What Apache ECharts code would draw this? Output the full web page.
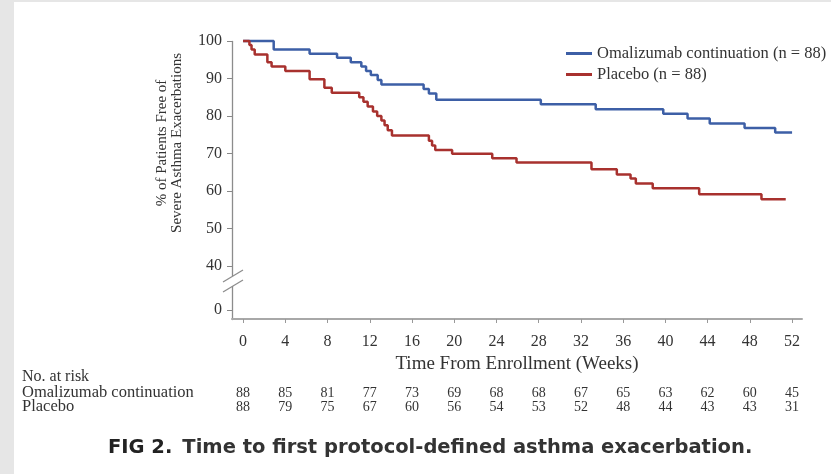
<!DOCTYPE html>
<html><head><meta charset="utf-8">
<script src="https://cdn.jsdelivr.net/npm/echarts@6/dist/echarts.min.js"></script>
<style>
html,body{margin:0;padding:0;background:#fff;}
#wrap{position:relative;width:831px;height:474px;overflow:hidden;background:#fff;}
#bandL{position:absolute;left:0;top:0;width:14px;height:474px;background:#e6e6e6;}
#bandT{position:absolute;left:0;top:0;width:831px;height:2px;background:#e6e6e6;}
#chart{position:absolute;left:0;top:0;width:831px;height:474px;}
</style></head><body>
<div id="wrap"><div id="bandL"></div><div id="bandT"></div><div id="chart"></div></div>
<script>
// ---- data ----
const omaName = 'Omalizumab continuation (n = 88)';
const plaName = 'Placebo (n = 88)';
const omaWeeks = [0, 2.9, 6.3, 8.9, 10.2, 11.2, 11.65, 12.1, 12.75, 13.1, 17.1, 17.6, 18.3, 28.2, 33.4, 39.8, 42.1, 44.2, 47.5, 50.4, 52.0];
const omaSurv  = [100, 97.7, 96.6, 95.5, 94.3, 93.2, 92.0, 90.9, 89.6, 88.4, 87.2, 86.0, 84.3, 83.1, 81.8, 80.6, 79.3, 78.0, 76.8, 75.6, 75.6];
const plaWeeks = [0, 0.6, 0.8, 1.1, 2.3, 2.7, 4.0, 6.3, 7.7, 8.4, 11.0, 11.4, 11.8, 12.3, 12.7, 13.1, 13.4, 13.7, 14.1, 17.6, 17.9, 18.2, 19.8, 23.6, 25.9, 33.0, 35.4, 36.7, 37.2, 38.8, 43.2, 49.1, 51.4];
const plaSurv  = [100, 98.9, 97.7, 96.4, 94.3, 93.2, 92.0, 89.8, 87.5, 86.2, 85.0, 83.8, 82.5, 81.2, 80.0, 78.8, 77.5, 76.2, 74.8, 73.4, 72.1, 70.9, 69.9, 68.7, 67.6, 65.8, 64.4, 63.3, 62.0, 60.7, 59.1, 57.8, 57.8];
const xTicks = [0, 4, 8, 12, 16, 20, 24, 28, 32, 36, 40, 44, 48, 52];
const yTicks = [0, 40, 50, 60, 70, 80, 90, 100];
const omaRisk = [88, 85, 81, 77, 73, 69, 68, 68, 67, 65, 63, 62, 60, 45];
const plaRisk = [88, 79, 75, 67, 60, 56, 54, 53, 52, 48, 44, 43, 43, 31];
const riskTitle = 'No. at risk';
const omaRowLabel = 'Omalizumab continuation';
const plaRowLabel = 'Placebo';
const xTitle = 'Time From Enrollment (Weeks)';
const yTitle = '% of Patients Free of\nSevere Asthma Exacerbations';
const captionBold = 'FIG 2.';
const captionText = 'Time to first protocol-defined asthma exacerbation.';
const breakStart = 6.4, breakEnd = 37.3;

// ---- style ----
const SERIF = '"Liberation Serif", "Times New Roman", serif';
const SANS = '"DejaVu Sans", Verdana, sans-serif';
const TXT = '#333';
const BLUE = '#3d5fa6';
const RED = '#a8312e';
const X_MIN = -1.05, X_MAX = 52.94;

const chart = echarts.init(document.getElementById('chart'), null, {renderer: 'canvas'});

function riskAxis(arr, offset) {
  return {
    type: 'value', min: X_MIN, max: X_MAX, position: 'bottom', offset: offset,
    axisLine: {show: false, onZero: false}, axisTick: {show: false}, splitLine: {show: false},
    axisLabel: {
      customValues: xTicks, margin: 0,
      fontFamily: SERIF, fontSize: 14, color: TXT,
      formatter: v => { const i = xTicks.indexOf(Math.round(v)); return i >= 0 ? String(arr[i]) : ''; }
    }
  };
}

const option = {
  animation: false,
  backgroundColor: 'transparent',
  title: {
    text: '{b|' + captionBold + '}  {r|' + captionText + '}',
    left: 108, top: 437, padding: 0,
    textStyle: {
      rich: {
        b: {fontFamily: SANS, fontWeight: 'bold', fontSize: 19.5, color: '#222', lineHeight: 22},
        r: {fontFamily: SANS, fontSize: 19.5, color: '#333', lineHeight: 22}
      }
    }
  },
  legend: {
    orient: 'vertical', left: 566, top: 45, itemGap: 4, padding: 0,
    icon: 'rect', itemWidth: 26, itemHeight: 3, selectedMode: false,
    textStyle: {fontFamily: SERIF, fontSize: 16.5, color: TXT},
    data: [omaName, plaName]
  },
  grid: {left: 232, right: 29, top: 41, bottom: 155, containLabel: false},
  xAxis: [
    {
      type: 'value', min: X_MIN, max: X_MAX,
      name: xTitle, nameLocation: 'middle', nameGap: 33,
      nameTextStyle: {fontFamily: SERIF, fontSize: 19, color: TXT},
      axisLine: {show: true, onZero: false, lineStyle: {color: '#a8a8a8', width: 2}},
      axisTick: {show: true, customValues: xTicks, length: 4, lineStyle: {color: '#999', width: 1}},
      axisLabel: {customValues: xTicks, margin: 15, fontFamily: SERIF, fontSize: 16, color: TXT},
      splitLine: {show: false}
    },
    riskAxis(omaRisk, 67),
    riskAxis(plaRisk, 81)
  ],
  yAxis: {
    type: 'value', min: -2.4, max: 100,
    breaks: [{start: breakStart, end: breakEnd, gap: '3.6%'}],
    breakArea: {show: false},
    axisLine: {show: true, onZero: false, lineStyle: {color: '#8c8c8c', width: 1.3}},
    axisTick: {show: true, customValues: yTicks, length: 5, lineStyle: {color: '#888', width: 1}},
    axisLabel: {customValues: yTicks, margin: 10, fontFamily: SERIF, fontSize: 16, color: TXT},
    splitLine: {show: false}
  },
  series: [
    {
      name: omaName, type: 'line', step: 'end', showSymbol: false, symbol: 'none', clip: false,
      lineStyle: {color: BLUE, width: 2.5}, itemStyle: {color: BLUE},
      data: omaWeeks.map((w, i) => [w, omaSurv[i]])
    },
    {
      name: plaName, type: 'line', step: 'end', showSymbol: false, symbol: 'none', clip: false,
      lineStyle: {color: RED, width: 2.5}, itemStyle: {color: RED},
      data: plaWeeks.map((w, i) => [w, plaSurv[i]])
    }
  ]
};
chart.setOption(option);

// decorations: break marks, y-axis title, risk row labels
const ax = chart.convertToPixel({xAxisIndex: 0}, X_MIN);
const yB1 = chart.convertToPixel({yAxisIndex: 0}, breakEnd);
const yB2 = chart.convertToPixel({yAxisIndex: 0}, breakStart);
function slash(y) {
  return {type: 'line', shape: {x1: ax - 9, y1: y + 6, x2: ax + 11, y2: y - 6},
          style: {stroke: '#8c8c8c', lineWidth: 1.2}, z: 100};
}
chart.setOption({
  graphic: [
    {type: 'rect', shape: {x: ax - 3, y: yB1, width: 6, height: yB2 - yB1}, style: {fill: '#fff'}, z: 99},
    slash(yB1), slash(yB2),
    {type: 'text', x: 170, y: 143, rotation: Math.PI / 2,
     style: {text: yTitle, font: '15px ' + SERIF, fill: TXT, align: 'center', verticalAlign: 'middle', lineHeight: 15}},
    {type: 'text', x: 22, y: 377, style: {text: riskTitle, font: '16px ' + SERIF, fill: TXT, verticalAlign: 'middle'}},
    {type: 'text', x: 22, y: 393, style: {text: omaRowLabel, font: '16.5px ' + SERIF, fill: TXT, verticalAlign: 'middle'}},
    {type: 'text', x: 22, y: 407, style: {text: plaRowLabel, font: '16.5px ' + SERIF, fill: TXT, verticalAlign: 'middle'}}
  ]
});
</script></body></html>
